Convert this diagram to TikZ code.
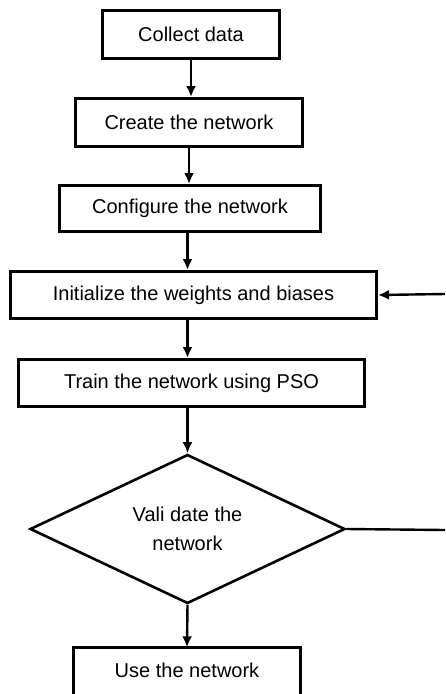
\documentclass[tikz,border=0pt]{standalone}
\usepackage{fontspec}
\setmainfont{Liberation Sans}
\usetikzlibrary{shapes.geometric,arrows.meta,calc}
\begin{document}
\begin{tikzpicture}[x=1pt,y=-1pt,
  stepbox/.style={draw=black,line width=3pt,rectangle,inner sep=0pt,
    font=\fontsize{20}{24}\selectfont},
  flow/.style={line width=2.4pt,-{Latex[length=11pt,width=10pt]}},
  plain/.style={line width=2.4pt}]
\useasboundingbox (0,0) rectangle (445,694);
\clip (0,0) rectangle (445,694);
\fill[white] (0,0) rectangle (445,694);

% process boxes
\node[stepbox,minimum width=177pt,minimum height=48pt] (collect) at (191,34) {Collect data};
\node[stepbox,minimum width=227pt,minimum height=48pt] (create) at (189,122.5) {Create the network};
\node[stepbox,minimum width=261pt,minimum height=46pt] (config) at (190,208.5) {Configure the network};
\node[stepbox,minimum width=366pt,minimum height=47pt] (init) at (193.5,295) {Initialize the weights and biases};
\node[stepbox,minimum width=346pt,minimum height=47pt] (train) at (191.5,383) {Train the network using PSO};

% decision
\node[draw=black,line width=2.6pt,diamond,aspect=2.11,inner sep=0pt,
  minimum width=315pt,minimum height=149pt,align=center,
  font=\fontsize{20}{29}\selectfont] (valid) at (187.5,529) {Vali date the\\network};

% final box, running off the lower edge
\node[font=\fontsize{20}{24}\selectfont,inner sep=0pt,
  minimum width=227pt,minimum height=45pt] (use) at (187,670) {Use the network};
\draw[line width=3pt] ($(use.south west)+(0,30)$) -- (use.north west)
  -- (use.north east) -- ($(use.south east)+(0,30)$);

% feedback line ends at the edge
\coordinate (fbout) at (445,530);
\coordinate (fbin) at (445,294);

% connectors
\draw[flow] (collect.south) -- (collect.south |- create.north);
\draw[flow] (create.south) -- (create.south |- config.north);
\draw[flow] (config.south -| valid.north) -- (init.north -| valid.north);
\draw[flow] (init.south -| valid.north) -- (train.north -| valid.north);
\draw[flow] (train.south -| valid.north) -- (valid.north);
\draw[flow] (valid.south) -- (use.north);
\draw[plain] (valid.east) -- (fbout);
\draw[flow] (fbin) -- (init.east);
\end{tikzpicture}
\end{document}
